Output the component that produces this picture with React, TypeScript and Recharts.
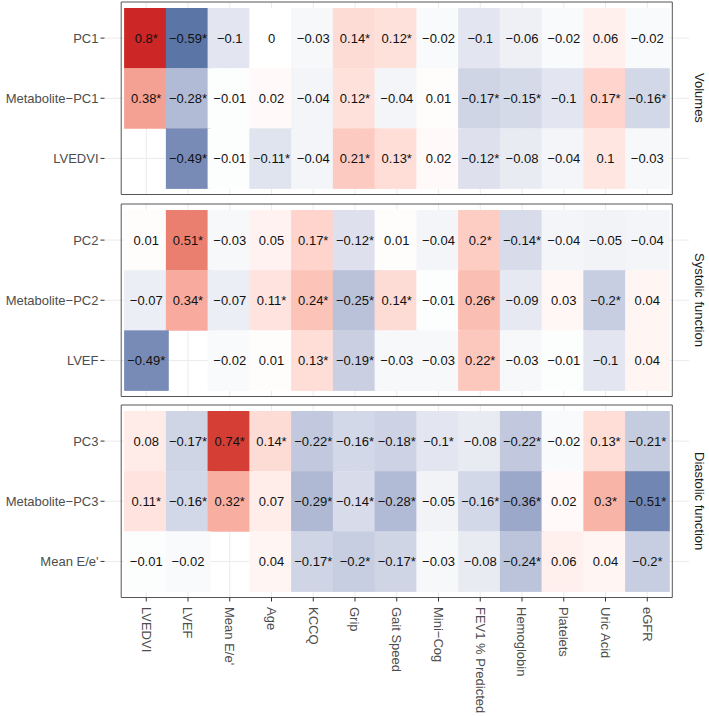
import React from 'react';
import {
    ScatterChart,
    Scatter,
    XAxis,
    YAxis,
    CartesianGrid,
    ReferenceArea
} from 'recharts';

// columns (x axis, shared by all three panels)
const columns = [
    'LVEDVI', 'LVEF', "Mean E/e'", 'Age', 'KCCQ', 'Grip', 'Gait Speed',
    'Mini\u2212Cog', 'FEV1 % Predicted', 'Hemoglobin', 'Platelets', 'Uric Acid', 'eGFR'
];

// panel 1: Volumes
const volumesRows = ['PC1', 'Metabolite\u2212PC1', 'LVEDVI'];
const volumesPC1 = [0.8, -0.59, -0.1, 0, -0.03, 0.14, 0.12, -0.02, -0.1, -0.06, -0.02, 0.06, -0.02];
const volumesPC1Sig = [1, 1, 0, 0, 0, 1, 1, 0, 0, 0, 0, 0, 0];
const volumesMet = [0.38, -0.28, -0.01, 0.02, -0.04, 0.12, -0.04, 0.01, -0.17, -0.15, -0.1, 0.17, -0.16];
const volumesMetSig = [1, 1, 0, 0, 0, 1, 0, 0, 1, 1, 0, 1, 1];
const volumesLVEDVI = [null, -0.49, -0.01, -0.11, -0.04, 0.21, 0.13, 0.02, -0.12, -0.08, -0.04, 0.1, -0.03];
const volumesLVEDVISig = [0, 1, 0, 1, 0, 1, 1, 0, 1, 0, 0, 0, 0];

// panel 2: Systolic function
const systolicRows = ['PC2', 'Metabolite\u2212PC2', 'LVEF'];
const systolicPC2 = [0.01, 0.51, -0.03, 0.05, 0.17, -0.12, 0.01, -0.04, 0.2, -0.14, -0.04, -0.05, -0.04];
const systolicPC2Sig = [0, 1, 0, 0, 1, 1, 0, 0, 1, 1, 0, 0, 0];
const systolicMet = [-0.07, 0.34, -0.07, 0.11, 0.24, -0.25, 0.14, -0.01, 0.26, -0.09, 0.03, -0.2, 0.04];
const systolicMetSig = [0, 1, 0, 1, 1, 1, 1, 0, 1, 0, 0, 1, 0];
const systolicLVEF = [-0.49, null, -0.02, 0.01, 0.13, -0.19, -0.03, -0.03, 0.22, -0.03, -0.01, -0.1, 0.04];
const systolicLVEFSig = [1, 0, 0, 0, 1, 1, 0, 0, 1, 0, 0, 0, 0];

// panel 3: Diastolic function
const diastolicRows = ['PC3', 'Metabolite\u2212PC3', "Mean E/e'"];
const diastolicPC3 = [0.08, -0.17, 0.74, 0.14, -0.22, -0.16, -0.18, -0.1, -0.08, -0.22, -0.02, 0.13, -0.21];
const diastolicPC3Sig = [0, 1, 1, 1, 1, 1, 1, 1, 0, 1, 0, 1, 1];
const diastolicMet = [0.11, -0.16, 0.32, 0.07, -0.29, -0.14, -0.28, -0.05, -0.16, -0.36, 0.02, 0.3, -0.51];
const diastolicMetSig = [1, 1, 1, 0, 1, 1, 1, 0, 1, 1, 0, 1, 1];
const diastolicEe = [-0.01, -0.02, null, 0.04, -0.17, -0.2, -0.17, -0.03, -0.08, -0.24, 0.06, 0.04, -0.2];
const diastolicEeSig = [0, 0, 0, 0, 1, 1, 1, 0, 0, 1, 0, 0, 1];

type Cell = { x: number; y: number; v: number; sig: boolean };

const buildCells = (rows: (number | null)[][], sigs: number[][]): Cell[] => {
    const out: Cell[] = [];
    rows.forEach((vals, r) =>
        vals.forEach((v, c) => {
            if (v !== null) out.push({ x: c, y: r, v, sig: sigs[r][c] === 1 });
        })
    );
    return out;
};

const panels = [
    {
        strip: 'Volumes',
        rows: volumesRows,
        cells: buildCells([volumesPC1, volumesMet, volumesLVEDVI], [volumesPC1Sig, volumesMetSig, volumesLVEDVISig])
    },
    {
        strip: 'Systolic function',
        rows: systolicRows,
        cells: buildCells([systolicPC2, systolicMet, systolicLVEF], [systolicPC2Sig, systolicMetSig, systolicLVEFSig])
    },
    {
        strip: 'Diastolic function',
        rows: diastolicRows,
        cells: buildCells([diastolicPC3, diastolicMet, diastolicEe], [diastolicPC3Sig, diastolicMetSig, diastolicEeSig])
    }
];

// --- colour scale (Lab interpolation, white in the middle) ---
const hexToRgb = (h: string) => [1, 3, 5].map((i) => parseInt(h.slice(i, i + 2), 16));
const toLin = (c: number) => {
    c /= 255;
    return c <= 0.04045 ? c / 12.92 : Math.pow((c + 0.055) / 1.055, 2.4);
};
const fromLin = (c: number) => {
    const v = c <= 0.0031308 ? 12.92 * c : 1.055 * Math.pow(c, 1 / 2.4) - 0.055;
    return Math.max(0, Math.min(255, Math.round(v * 255)));
};
const f = (t: number) => (t > 0.008856 ? Math.cbrt(t) : 7.787 * t + 16 / 116);
const fi = (t: number) => (t > 0.206893 ? t * t * t : (t - 16 / 116) / 7.787);
const rgbToLab = (rgb: number[]) => {
    const [R, G, B] = rgb.map(toLin);
    const X = (0.4124 * R + 0.3576 * G + 0.1805 * B) / 0.95047;
    const Y = 0.2126 * R + 0.7152 * G + 0.0722 * B;
    const Z = (0.0193 * R + 0.1192 * G + 0.9505 * B) / 1.08883;
    return [116 * f(Y) - 16, 500 * (f(X) - f(Y)), 200 * (f(Y) - f(Z))];
};
const labToHex = ([L, a, b]: number[]) => {
    const fy = (L + 16) / 116;
    const X = 0.95047 * fi(fy + a / 500);
    const Y = fi(fy);
    const Z = 1.08883 * fi(fy - b / 200);
    const R = 3.2406 * X - 1.5372 * Y - 0.4986 * Z;
    const G = -0.9689 * X + 1.8758 * Y + 0.0415 * Z;
    const B = 0.0557 * X - 0.204 * Y + 1.057 * Z;
    return '#' + [R, G, B].map((c) => fromLin(c).toString(16).padStart(2, '0')).join('');
};
const WHITE = rgbToLab(hexToRgb('#ffffff'));
const HIGH = rgbToLab(hexToRgb('#cd2626'));
const LOW = rgbToLab(hexToRgb('#5b75a7'));
const fillFor = (v: number) => {
    const target = v >= 0 ? HIGH : LOW;
    const t = v >= 0 ? Math.min(v / 0.8, 1) : Math.min(-v / 0.59, 1);
    return labToHex(WHITE.map((w, i) => w + (target[i] - w) * t));
};

// --- layout ---
const W = 709;
const Y_AXIS_W = 104.5;
const RIGHT = 20;
const PLOT_W = W - Y_AXIS_W - RIGHT;
const PLOT_H = 192.5;
const PANEL_TOPS = [2, 203.5, 405];
const CELL_W = PLOT_W / 13.2;
const CELL_H = PLOT_H / 3.2;
const FONT = '"Liberation Sans", Arial, Helvetica, sans-serif';

const fmt = (v: number) => String(v).replace('-', '\u2212');

const Tile = (props: any) => {
    const { cx, cy, payload } = props;
    if (cx == null || cy == null) return null;
    return (
        <g>
            <rect
                x={cx - CELL_W / 2}
                y={cy - CELL_H / 2}
                width={CELL_W + 0.4}
                height={CELL_H + 0.4}
                fill={fillFor(payload.v)}
            />
            <text x={cx} y={cy} dy="0.35em" textAnchor="middle" fontSize={13} fill="#111" fontFamily={FONT}>
                {fmt(payload.v) + (payload.sig ? '*' : '')}
            </text>
        </g>
    );
};

const XTick = (props: any) => {
    const { x, y, payload } = props;
    return (
        <g transform={`translate(${x},${y})`}>
            <text transform="rotate(90)" x={3.5} y={0} dy="0.35em" textAnchor="start" fontSize={13} fill="#4d4d4d" fontFamily={FONT}>
                {columns[payload.value]}
            </text>
        </g>
    );
};

const colIdx = columns.map((_, i) => i);

const Panel = ({ idx }: { idx: number }) => {
    const p = panels[idx];
    const last = idx === panels.length - 1;
    const top = PANEL_TOPS[idx] - 2;
    const height = last ? 716 - top : PLOT_H + 4;
    const xAxisH = last ? height - 2 - PLOT_H : 0;
    return (
        <div style={{ position: 'absolute', left: 0, top, width: W, height }}>
            <ScatterChart width={W} height={height} margin={{ top: 2, right: RIGHT, bottom: last ? 0 : 2, left: 0 }}>
                <CartesianGrid stroke="#ebebeb" verticalValues={colIdx} horizontalValues={[0, 1, 2]} />
                <XAxis
                    type="number"
                    dataKey="x"
                    domain={[-0.6, 12.6]}
                    ticks={colIdx}
                    interval={0}
                    allowDecimals={false}
                    hide={!last}
                    height={xAxisH}
                    axisLine={false}
                    tickSize={4}
                    tickLine={{ stroke: '#333333' }}
                    tick={<XTick />}
                />
                <YAxis
                    type="number"
                    dataKey="y"
                    domain={[-0.6, 2.6]}
                    reversed
                    ticks={[0, 1, 2]}
                    interval={0}
                    width={Y_AXIS_W}
                    axisLine={false}
                    tickSize={4}
                    tickLine={{ stroke: '#333333' }}
                    tick={{ fill: '#4d4d4d', fontSize: 13, fontFamily: FONT }}
                    tickFormatter={(v: number) => p.rows[v]}
                />
                <Scatter data={p.cells} shape={<Tile />} isAnimationActive={false} />
                <ReferenceArea x1={-0.6} x2={12.6} y1={-0.6} y2={2.6} fill="none" fillOpacity={0} stroke="#555555" strokeWidth={1} />
            </ScatterChart>
            <div
                style={{
                    position: 'absolute',
                    left: W - RIGHT,
                    top: 2,
                    width: RIGHT,
                    height: PLOT_H,
                    display: 'flex',
                    alignItems: 'center',
                    justifyContent: 'center',
                    writingMode: 'vertical-rl',
                    fontFamily: FONT,
                    fontSize: 13,
                    color: '#1a1a1a',
                    whiteSpace: 'nowrap'
                }}
            >
                {p.strip}
            </div>
        </div>
    );
};

const App: React.FC = () => {
    return (
        <div style={{ position: 'absolute', left: 0, top: 0, width: W, height: 716, background: '#fff', fontFamily: FONT }}>
            {panels.map((_, i) => (
                <Panel key={i} idx={i} />
            ))}
        </div>
    );
};

export default App;
